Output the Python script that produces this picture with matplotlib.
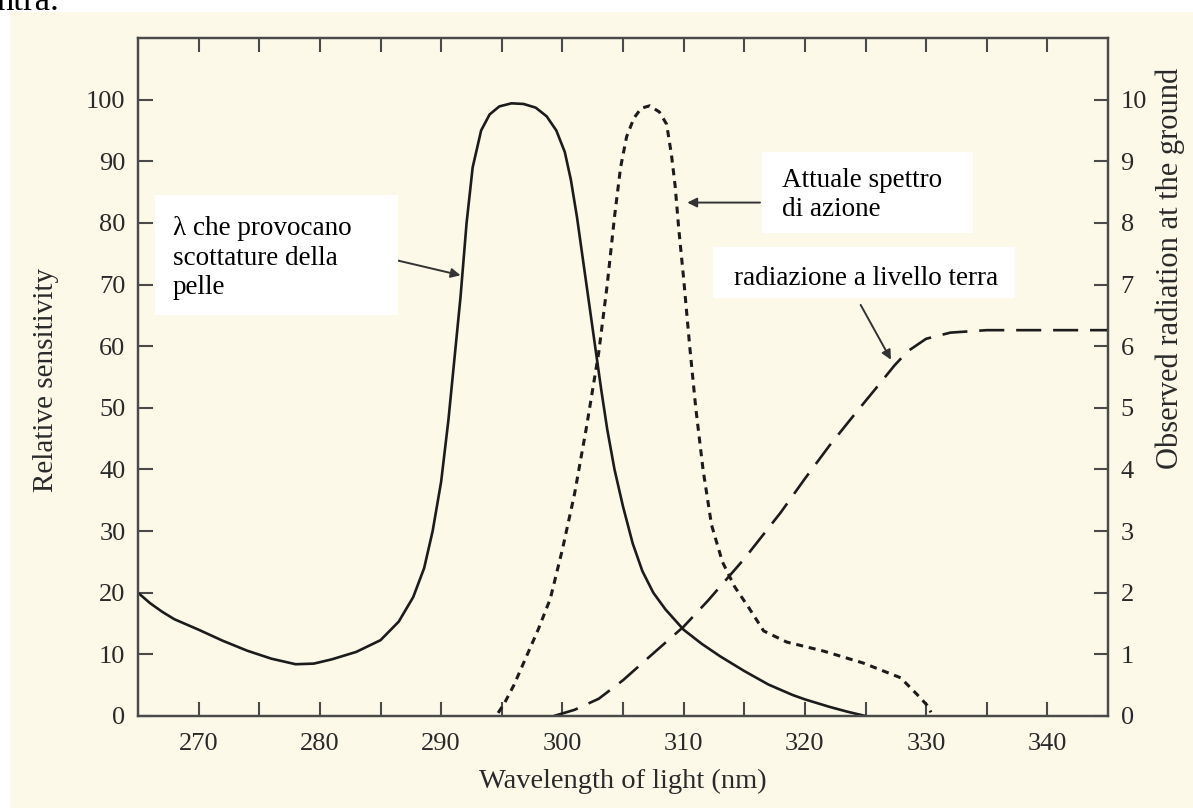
import matplotlib
matplotlib.use("Agg")
import matplotlib.pyplot as plt
from matplotlib.patches import Rectangle

plt.rcParams.update({
    "font.family": ["Liberation Serif", "DejaVu Serif"],
    "font.size": 19,
    "axes.linewidth": 1.6,
})

W, H = 1193, 808
INK = "#1c1c1c"
AXIS = "#4a4a4a"
LABEL = "#2a2a2a"
PAPER = "#fcf9e8"

# ---------------------------------------------------------------------------
# Data
# ---------------------------------------------------------------------------
# sunburn sensitivity (left axis, relative sensitivity)
burn_nm = [265, 266, 267, 268, 270, 272, 274, 276, 278, 279.5, 281, 283, 285,
           286.5, 287.7, 288.6, 289.3, 290, 290.6, 291.1, 291.6, 292.1, 292.6,
           293.3, 294, 294.8, 295.8, 296.8, 297.8, 298.7, 299.5, 300.2, 300.7,
           301.2, 301.7, 302.2, 302.7, 303.2, 303.7, 304.3, 305, 305.8, 306.6,
           307.5, 308.5, 310, 311.5, 313, 315, 317, 319, 320, 322, 323.5, 325]
burn_val = [20, 18.3, 16.9, 15.7, 14.0, 12.2, 10.6, 9.3, 8.4, 8.5, 9.2, 10.4, 12.3,
            15.3, 19.3, 24, 30, 38, 48, 58, 68, 80, 89,
            95, 97.6, 98.9, 99.4, 99.3, 98.7, 97.3, 95, 91.5, 87,
            81, 74, 67, 60, 53, 46.5, 40, 34, 28, 23.5,
            20, 17.3, 14, 11.7, 9.7, 7.3, 5.1, 3.4, 2.7, 1.5, 0.7, 0]

# actual action spectrum (left axis units)
action_nm = [294.7, 295.2, 296, 297, 298, 299, 300, 301, 302, 303, 303.7, 304.3,
             304.8, 305.3, 305.9, 306.5, 307.2, 308, 308.6, 309, 309.3, 309.6,
             310, 310.5, 311, 311.6, 312.3, 313.2, 314.2, 315.4, 316.6, 318.5,
             321.6, 324.8, 327.9, 329.4, 330.1, 330.4]
action_val = [0.5, 2, 5, 9.5, 14, 19, 27, 36, 47, 59, 70, 81,
              89, 94, 97, 98.6, 99, 98, 96, 91, 86, 79,
              71, 60, 50, 40, 31, 25, 21, 17.5, 13.8, 12,
              10.5, 8.6, 6.2, 3.2, 1.7, 0.6]

# radiation observed at ground level (right axis)
ground_nm = [299.3, 301, 303, 305, 307, 310, 312, 315, 318, 320, 322, 324, 326,
             327.4, 328.5, 330, 332, 335, 345]
ground_val = [0, 0.1, 0.28, 0.58, 0.93, 1.45, 1.87, 2.55, 3.3, 3.85, 4.38, 4.87, 5.35,
              5.69, 5.92, 6.12, 6.22, 6.26, 6.26]

x_ticks = list(range(270, 345, 5))
x_labels = [str(t) if t % 10 == 0 else "" for t in x_ticks]
left_ticks = list(range(0, 101, 10))
right_ticks = list(range(0, 11))


def fx(px):
    return px / W


def fy(py):
    return 1 - py / H


# ---------------------------------------------------------------------------
# Figure
# ---------------------------------------------------------------------------
fig = plt.figure(figsize=(W / 100, H / 100), dpi=100, facecolor="white")
fig.patches.append(Rectangle((fx(10), 0), 1, fy(12), transform=fig.transFigure,
                             facecolor=PAPER, edgecolor="none", zorder=-5))
fig.text(fx(-4), fy(10), "ntra.", fontsize=25, va="baseline", ha="left",
         color="black", zorder=-4)

ax = fig.add_axes([fx(138), fy(716), fx(1108 - 138), (716 - 38) / H])
ax.set_facecolor("none")
ax2 = ax.twinx()

ax.plot(burn_nm, burn_val, color=INK, lw=1.9, solid_joinstyle="round")
ax.plot(action_nm, action_val, color=INK, lw=2.2, linestyle=(0, (2.3, 1.9)))
ax2.plot(ground_nm, ground_val, color=INK, lw=1.9, linestyle=(0, (9.5, 4.5)))

ax.set_xlim(265, 345)
ax.set_ylim(0, 110)
ax2.set_ylim(0, 11)

ax.set_xticks(x_ticks)
ax.set_xticklabels(x_labels)
ax.set_yticks(left_ticks)
ax2.set_yticks(right_ticks)

ax.tick_params(axis="x", direction="in", length=10, width=1.5, color=AXIS,
               top=True, pad=12, labelcolor=LABEL)
ax.tick_params(axis="y", direction="in", length=11, width=1.5, color=AXIS,
               pad=9, labelcolor=LABEL)
ax2.tick_params(axis="y", direction="in", length=10, width=1.5, color=AXIS,
                pad=9, labelcolor=LABEL)
for a in (ax, ax2):
    for s in a.spines.values():
        s.set_color(AXIS)

ax.set_xlabel("Wavelength of light (nm)", color=LABEL, fontsize=20.5, labelpad=10)
fig.text(fx(46), fy(380), "Relative sensitivity", rotation=90,
         ha="center", va="center", color=LABEL, fontsize=21)
fig.text(fx(1170), fy(268), "Observed radiation at the ground", rotation=90,
         ha="center", va="center", color=LABEL, fontsize=22)

# ---------------------------------------------------------------------------
# Annotation boxes and arrows
# ---------------------------------------------------------------------------
boxes = [
    (155, 195, 398, 315),
    (762, 152, 973, 233),
    (713, 247, 1015, 298),
]
for x0, y0, x1, y1 in boxes:
    fig.patches.append(Rectangle((fx(x0), fy(y1)), fx(x1 - x0), (y1 - y0) / H,
                                 transform=fig.transFigure, facecolor="white",
                                 edgecolor="none", zorder=5))

notes = [
    (173, 235, "λ che provocano"),
    (173, 265, "scottature della"),
    (173, 294, "pelle"),
    (782, 187, "Attuale spettro"),
    (782, 216, "di azione"),
    (734, 285, "radiazione a livello terra"),
]
for x, y, s in notes:
    fig.text(fx(x), fy(y), s, fontsize=19.5, ha="left", va="baseline",
             zorder=6, color="black")

arrow = dict(arrowstyle="-|>", color="#333333", lw=1.4, mutation_scale=14,
             shrinkA=0, shrinkB=0)
ax.annotate("", xy=(291.6, 71.5), xytext=(286.2, 74), arrowprops=arrow)
ax.annotate("", xy=(310.3, 83.3), xytext=(316.3, 83.3), arrowprops=arrow)
ax2.annotate("", xy=(327.1, 5.78), xytext=(324.6, 6.67), arrowprops=arrow)

fig.savefig("out.png", dpi=100, facecolor="white")
